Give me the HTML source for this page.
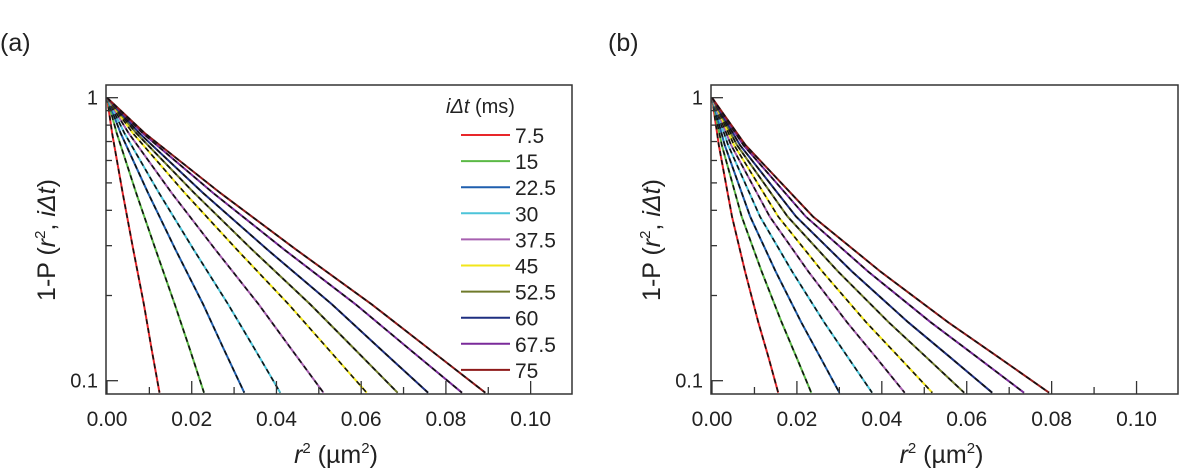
<!DOCTYPE html>
<html><head><meta charset="utf-8"><style>
body{margin:0;background:#fff;}
svg{display:block;font-family:"Liberation Sans",sans-serif;}
</style></head><body>
<svg id="chart" width="1200" height="469" viewBox="0 0 1200 469" xmlns="http://www.w3.org/2000/svg">
<text x="0" y="51" font-size="25" fill="#222">(a)</text>
<text x="608" y="51" font-size="25" fill="#222">(b)</text>
<g id="pa"></g>
<g id="pb"></g>
</svg>
<script>
const seriesNames = ["7.5","15","22.5","30","37.5","45","52.5","60","67.5","75"];
const seriesColors = ["#e8262a","#5bb946","#1f5fae","#4cc4d9","#a760b0","#f2e61a","#6f7a2a","#1e2f80","#7a2a9a","#8e1a1a"];
const xTicks = [0,0.02,0.04,0.06,0.08,0.10];
const xTickLabels = ["0.00","0.02","0.04","0.06","0.08","0.10"];
const yMinor = [0.2,0.3,0.4,0.5,0.6,0.7,0.8,0.9];
const pLevelsA = [1,0.75,0.46,0.29,0.186,0.13,0.0907];
const pLevelsB = [1,0.68,0.38,0.243,0.161,0.121,0.0907];
const r2A_75 = [0,.0012,.0037,.0062,.0087,.0105,.0124];
const r2A_15 = [0,.0023,.0069,.0115,.0160,.0195,.0229];
const r2A_225 = [0,.0032,.0097,.0162,.0227,.0275,.0324];
const r2A_30 = [0,.0041,.0123,.0205,.0286,.0348,.0409];
const r2A_375 = [0,.0051,.0153,.0256,.0358,.0434,.0511];
const r2A_45 = [0,.0061,.0184,.0307,.0429,.0521,.0613];
const r2A_525 = [0,.0069,.0206,.0343,.0480,.0583,.0686];
const r2A_60 = [0,.0076,.0227,.0379,.0531,.0644,.0758];
const r2A_675 = [0,.0084,.0251,.0419,.0587,.0712,.0838];
const r2A_750 = [0,.0089,.0268,.0447,.0625,.0759,.0893];
const r2B_75 = [0,.0016,.0047,.0078,.0109,.0133,.0156];
const r2B_15 = [0,.0023,.0070,.0117,.0164,.0199,.0234];
const r2B_225 = [0,.0030,.0090,.0150,.0210,.0255,.0300];
const r2B_30 = [0,.0038,.0113,.0189,.0264,.0320,.0377];
const r2B_375 = [0,.0045,.0136,.0227,.0318,.0386,.0454];
const r2B_45 = [0,.0052,.0156,.0260,.0363,.0441,.0519];
const r2B_525 = [0,.0059,.0178,.0297,.0416,.0505,.0594];
const r2B_60 = [0,.0066,.0198,.0330,.0462,.0561,.0660];
const r2B_675 = [0,.0074,.0221,.0368,.0515,.0625,.0735];
const r2B_750 = [0,.0079,.0238,.0397,.0556,.0675,.0794];
const seriesA = [r2A_75,r2A_15,r2A_225,r2A_30,r2A_375,r2A_45,r2A_525,r2A_60,r2A_675,r2A_750];
const seriesB = [r2B_75,r2B_15,r2B_225,r2B_30,r2B_375,r2B_45,r2B_525,r2B_60,r2B_675,r2B_750];

const NS="http://www.w3.org/2000/svg";
function mk(parent,tag,attrs){const e=document.createElementNS(NS,tag);for(const k in attrs)e.setAttribute(k,attrs[k]);parent.appendChild(e);return e;}

function panel(g,L,R,T,B,series,pLevels,withLegend){
  const x0=L+1, pxPer=(R-L)/0.11;
  const xs=v=>x0+v*pxPer;
  const yTop=97.7, dec=283;
  const ys=p=>yTop-Math.log10(p)*dec;
  const clipId='clip'+L;
  const cp=mk(g,'clipPath',{id:clipId}); mk(cp,'rect',{x:L,y:T,width:R-L,height:B-T});
  const plot=mk(g,'g',{'clip-path':'url(#'+clipId+')'});
  series.forEach((arr,i)=>{
    const pts=arr.map((v,j)=>xs(v).toFixed(1)+','+ys(pLevels[j]).toFixed(1)).join(' ');
    const l=mk(plot,'polyline',{points:pts,fill:'none',stroke:seriesColors[i],'stroke-width':2});
    
    
    const d=mk(plot,'polyline',{points:pts,fill:'none',stroke:'#111','stroke-width':1.6,'stroke-dasharray':'5,4'});
    
    
  });
  const fr=mk(g,'rect',{x:L,y:T,width:R-L,height:B-T,fill:'none',stroke:'#333','stroke-width':1.5});
  
  
  xTicks.forEach((v,i)=>{
    mk(g,'line',{x1:xs(v),x2:xs(v),y1:B,y2:B-13,stroke:'#333','stroke-width':1.3});
    const t=mk(g,'text',{x:xs(v),y:B+32,'font-size':21,'text-anchor':'middle',fill:'#222'});
    t.textContent=xTickLabels[i];
    
    
    if(i<xTicks.length-1) mk(g,'line',{x1:xs(v+0.01),x2:xs(v+0.01),y1:B,y2:B-7,stroke:'#333','stroke-width':1.3});
  });
  [[1,'1'],[0.1,'0.1']].forEach(([p,s])=>{
    mk(g,'line',{x1:L,x2:L+12,y1:ys(p),y2:ys(p),stroke:'#333','stroke-width':1.3});
    const t=mk(g,'text',{x:L-8,y:ys(p)+7,'font-size':20,'text-anchor':'end',fill:'#222'});
    t.textContent=s;
    
    
  });
  yMinor.forEach(p=>mk(g,'line',{x1:L,x2:L+6,y1:ys(p),y2:ys(p),stroke:'#333','stroke-width':1.3}));
  const xl=mk(g,'text',{x:(L+R)/2-3,y:463,'font-size':25,'text-anchor':'middle',fill:'#222'});
  xl.innerHTML='<tspan font-style="italic">r</tspan><tspan dy="-10" font-size="15">2</tspan><tspan dy="10"> (µm</tspan><tspan dy="-10" font-size="15">2</tspan><tspan dy="10">)</tspan>';
  
  
  const yl=mk(g,'text',{transform:'translate('+(L-51)+',240) rotate(-90)','font-size':25,'text-anchor':'middle',fill:'#222'});
  yl.innerHTML='1-P (<tspan font-style="italic">r</tspan><tspan dy="-10" font-size="15">2</tspan><tspan dy="10">, </tspan><tspan font-style="italic">iΔt</tspan>)';
  
  
  if(withLegend){
    const lg=mk(g,'g',{});
    
    
    const tt=mk(lg,'text',{x:446,y:113,'font-size':20,fill:'#222'});
    tt.innerHTML='<tspan font-style="italic">iΔt</tspan> (ms)';
    seriesNames.forEach((n,i)=>{
      const y=135+i*26.1;
      const e=mk(lg,'g',{});
      
      
      mk(e,'line',{x1:461,x2:510,y1:y,y2:y,stroke:seriesColors[i],'stroke-width':2});
      const t=mk(e,'text',{x:515,y:y+8,'font-size':21,fill:'#222'});
      t.textContent=n;
    });
  }
}
panel(document.getElementById('pa'),106,572,85,394,seriesA,pLevelsA,true);
panel(document.getElementById('pb'),711,1178,85,394,seriesB,pLevelsB,false);
</script>
</body></html>
